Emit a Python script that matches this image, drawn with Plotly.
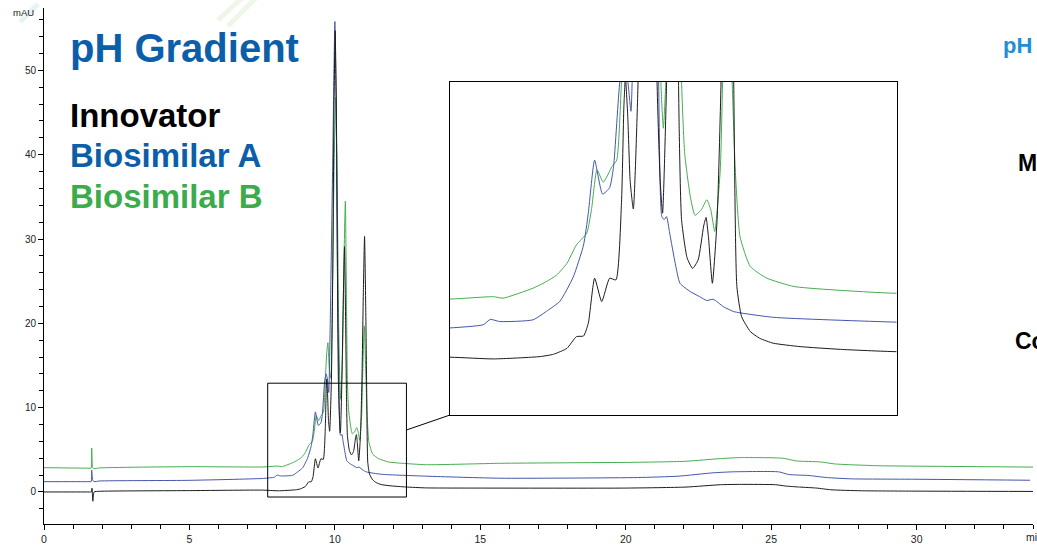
import plotly.graph_objects as go

# ---------------- data ----------------
innov_t = [0, 1.55, 1.63, 1.65, 1.68, 1.72, 1.9, 5.0, 7.5, 8.05, 8.64, 8.81, 8.98, 9.10, 9.19, 9.25,
           9.33, 9.42, 9.52, 9.60, 9.67, 9.70, 9.72, 9.75, 9.78, 9.82, 9.88, 9.93, 9.97, 10.01, 10.05,
           10.08, 10.12, 10.16, 10.19, 10.24, 10.29, 10.33, 10.37, 10.40, 10.43, 10.50, 10.57, 10.64,
           10.71, 10.74, 10.77, 10.82, 10.88, 10.93, 10.98, 11.02, 11.06, 11.09, 11.13, 11.19, 11.30,
           11.42, 11.59, 11.93, 12.44, 13.15, 15.0, 20.0, 22.07, 23.26, 23.97, 25.15, 25.5, 25.98,
           26.57, 27.05, 28.1, 29.9, 34.0]
innov_v = [0.0, 0.0, 0.0, 0.45, -1.1, 0.0, 0.08, 0.16, 0.22, 0.14, 0.25, 0.36, 0.64, 1.19, 1.22, 1.82,
           3.94, 2.84, 3.94, 3.86, 7.5, 12.0, 13.4, 11.5, 8.5, 7.2, 13.2, 27, 46, 54.7, 46,
           30, 13.2, 8.5, 7.0, 13.0, 23, 29.1, 20, 11, 6.7, 4.9, 4.4, 4.8,
           6.4, 6.8, 5.9, 3.7, 6.7, 13.2, 24, 30.3, 22, 13.2, 3.55, 2.13, 1.43,
           1.11, 0.88, 0.72, 0.59, 0.48, 0.46, 0.46, 0.58, 0.86, 0.9, 0.86, 0.7, 0.58,
           0.46, 0.26, 0.14, 0.1, 0.06]

bioA_t = [0, 1.55, 1.62, 1.64, 1.67, 1.72, 1.9, 5.0, 7.5, 7.92, 8.01, 8.13, 8.55, 8.72, 8.89, 9.06,
          9.19, 9.25, 9.33, 9.43, 9.52, 9.57, 9.65, 9.70, 9.75, 9.79, 9.84, 9.92, 10.00, 10.06, 10.10,
          10.14, 10.18, 10.21, 10.24, 10.28, 10.35, 10.41, 10.54, 10.66, 10.75, 10.83, 10.96, 11.09,
          11.59, 13.15, 15.7, 20.4, 21.8, 23.0, 23.7, 25.25, 25.6, 26.3, 26.9, 27.8, 29.9, 33.9]
bioA_v = [1.22, 1.22, 1.22, 2.6, 1.45, 1.22, 1.3, 1.38, 1.6, 1.75, 2.0, 1.9, 1.98, 2.38, 2.85, 4.0,
          5.5, 7.0, 9.5, 7.9, 8.2, 9.2, 13.2, 14.0, 13.2, 11.8, 20, 38, 55.8, 40, 22,
          13.2, 6.84, 6.7, 6.84, 6.06, 4.64, 3.7, 3.31, 3.07, 2.89, 2.95, 2.6, 2.37,
          2.1, 1.87, 1.63, 1.71, 1.87, 2.27, 2.39, 2.39, 2.07, 1.95, 1.71, 1.55, 1.51, 1.39]

bioB_t = [0, 1.55, 1.62, 1.64, 1.67, 1.72, 1.9, 5.0, 7.5, 8.05, 8.17, 8.55, 8.72, 8.85, 8.98, 9.10,
          9.23, 9.29, 9.36, 9.44, 9.55, 9.61, 9.67, 9.72, 9.76, 9.81, 9.86, 9.92, 9.98, 10.03, 10.08,
          10.13, 10.17, 10.20, 10.26, 10.31, 10.36, 10.40, 10.43, 10.47, 10.54, 10.60, 10.68, 10.75,
          10.80, 10.85, 10.92, 10.95, 11.01, 11.07, 11.11, 11.17, 11.30, 11.51, 11.85, 12.23, 13.15,
          15.7, 20.4, 22.07, 23.26, 23.97, 25.4, 25.86, 26.7, 27.2, 28.7, 31.1, 34.0]
bioB_v = [2.88, 2.82, 2.82, 5.2, 2.9, 2.75, 2.85, 3.0, 2.96, 3.07, 3.0, 3.47, 3.78, 4.09, 4.64, 5.51,
          6.06, 7.16, 9.04, 8.46, 9.2, 9.5, 13.2, 16.5, 17.7, 14.5, 13.5, 25, 40, 46.8, 36,
          20, 13, 11.0, 16, 27, 34.5, 22, 13.2, 9.8, 7.8, 6.9, 7.16, 7.63,
          7.16, 6.14, 9.04, 13.2, 19.7, 13.2, 9.04, 5.9, 4.49, 3.94, 3.55, 3.42, 3.23,
          3.40, 3.52, 3.64, 3.96, 4.08, 4.0, 3.68, 3.56, 3.32, 3.11, 3.03, 2.95]

series_names = ["Innovator", "Biosimilar A", "Biosimilar B"]
x_ticks = [0, 5, 10, 15, 20, 25, 30]
y_ticks = [0, 10, 20, 30, 40, 50]

# ---------------- styling ----------------
W, H = 1037, 546
ML, MR, MT, MB = 44, 4, 8, 22
PW, PH = W - ML - MR, H - MT - MB
FONT = "Liberation Sans, Arial, Helvetica, sans-serif"
col_black = "#1c1c1c"
col_blue_line = "#4456aa"
col_green_line = "#45ad50"
txt_blue = "#0b5ea8"
txt_green = "#3cab4b"

def px(xp):
    return (xp - ML) / PW

def py(yp):
    return (H - MB - yp) / PH

fig = go.Figure()
data = [(innov_t, innov_v, col_black), (bioA_t, bioA_v, col_blue_line), (bioB_t, bioB_v, col_green_line)]
for (t, v, c), name in reversed(list(zip(data, series_names))):
    fig.add_trace(go.Scatter(x=t, y=v, mode="lines", name=name,
                             line=dict(color=c, width=1, shape="spline", smoothing=0.5),
                             xaxis="x", yaxis="y", hoverinfo="skip"))
for (t, v, c), name in reversed(list(zip(data, series_names))):
    fig.add_trace(go.Scatter(x=t, y=v, mode="lines", name=name, showlegend=False,
                             line=dict(color=c, width=1, shape="spline", smoothing=0.5),
                             xaxis="x2", yaxis="y2", hoverinfo="skip"))

axis_common = dict(showgrid=False, zeroline=False, showline=True, linecolor="black", linewidth=1,
                   ticks="outside", tickcolor="black", tickwidth=1, ticklen=5, automargin=False,
                   tickfont=dict(family=FONT, size=10, color="#222"))

fig.update_layout(
    width=W, height=H,
    margin=dict(l=ML, r=MR, t=MT, b=MB, pad=0),
    paper_bgcolor="white", plot_bgcolor="white",
    showlegend=False,
    xaxis=dict(range=[0, 34], tickmode="array", tickvals=x_ticks,
               minor=dict(dtick=1, tick0=0, ticks="outside", ticklen=4, tickcolor="black"),
               **{**axis_common, "tickfont": dict(family=FONT, size=10.5, color="#222")}),
    yaxis=dict(range=[-3.8, 57.4], tickmode="array", tickvals=y_ticks,
               minor=dict(dtick=2, tick0=0, ticks="outside", ticklen=4, tickcolor="black"),
               **axis_common),
    xaxis2=dict(domain=[px(450), px(896.5)], anchor="y2", range=[7.5, 13.15],
                showgrid=False, zeroline=False, showline=True, mirror=True, linecolor="black",
                linewidth=1, ticks="", showticklabels=False, automargin=False),
    yaxis2=dict(domain=[py(415), py(81.5)], anchor="x2", range=[-2.5, 13.2],
                showgrid=False, zeroline=False, showline=True, mirror=True, linecolor="black",
                linewidth=1, ticks="", showticklabels=False, automargin=False),
)

# zoom rectangle and connector
fig.add_shape(type="rect", xref="x", yref="y", x0=7.69, x1=12.46, y0=-0.6, y1=12.9,
              line=dict(color="black", width=1))
fig.add_shape(type="line", xref="x", yref="y", x0=12.46, y0=7.35,
              x1=(450 - ML) / PW * 34, y1=-3.8 + (H - MB - 415) / PH * 61.2,
              line=dict(color="black", width=1))

# faint decorative stripes at the top
for (x0, y0, x1, y1, c) in [(218, 20, 242, -2, "#eef6e8"), (228, 26, 256, -2, "#eef6e8"),
                            (20, 22, 38, 4, "#e8f3f4")]:
    fig.add_shape(type="line", xref="paper", yref="paper", x0=px(x0), y0=py(y0), x1=px(x1), y1=py(y1),
                  line=dict(color=c, width=5), layer="below")

def ann(text, x, y, size, color, bold=True, xanchor="left"):
    fig.add_annotation(text=f"<b>{text}</b>" if bold else text, xref="paper", yref="paper",
                       x=px(x), y=py(y), xanchor=xanchor, yanchor="middle", showarrow=False,
                       borderpad=0, font=dict(family=FONT, size=size, color=color))

ann("pH Gradient", 69, 48, 40, txt_blue)
ann(series_names[0], 69, 115, 33, "#000000")
ann(series_names[1], 69, 156, 33, txt_blue)
ann(series_names[2], 69, 196, 33, txt_green)
ann("pH", 1002, 45, 22, "#1f8fd6")
ann("M", 1017, 163, 23, "#000000")
ann("Co", 1014, 341, 23, "#000000")
ann("mAU", 23, 12, 9.5, "#222", bold=False, xanchor="center")
ann("min", 1025, 537, 10.5, "#222", bold=False)

fig.write_html("out.html")
